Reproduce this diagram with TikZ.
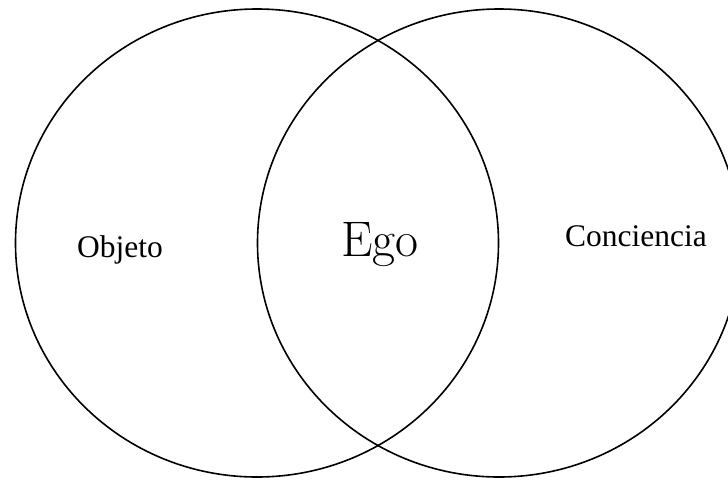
\documentclass[tikz,border=0pt]{standalone}
\usepackage{fontspec}
\newfontfamily\labelfont{Liberation Serif}
\begin{document}
\begin{tikzpicture}[x=1pt,y=-1pt,
  ring/.style={line width=1.6pt,black},
  sidelabel/.style={font=\labelfont\fontsize{31.5}{34}\selectfont,anchor=base,inner sep=0pt},
  midlabel/.style={font=\fontsize{50}{54}\selectfont,anchor=base,inner sep=0pt}]
\useasboundingbox (0,0) rectangle (728,480);
\clip (0,0) rectangle (728,480);
\draw[ring] (257,243) ellipse [x radius=241.5pt, y radius=234pt];
\draw[ring] (499,243) ellipse [x radius=241.5pt, y radius=234pt];
\node[sidelabel] (objeto) at (120,257) {Objeto};
\node[midlabel] (ego) at (380,256) {Ego};
\node[sidelabel] (conciencia) at (636,246) {Conciencia};
\end{tikzpicture}
\end{document}
